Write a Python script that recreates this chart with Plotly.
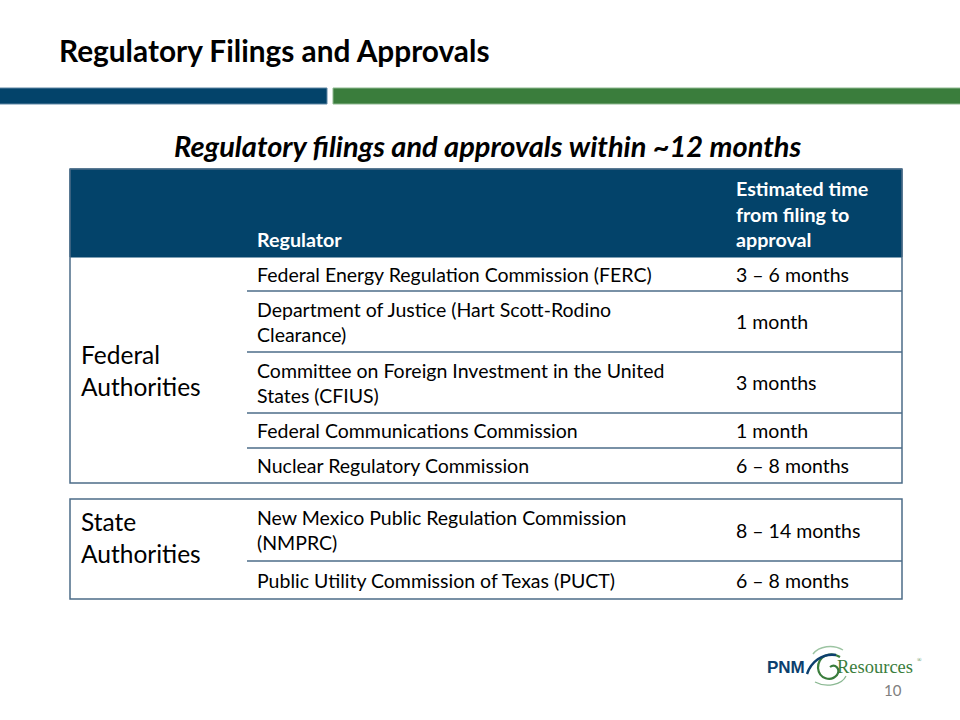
import plotly.graph_objects as go

# ---------------- data ----------------
title = "Regulatory Filings and Approvals"
subtitle = "Regulatory filings and approvals within ~12 months"
header_regulator = "Regulator"
header_time = "Estimated time<br>from filing to<br>approval"
groups = ["Federal<br>Authorities", "State<br>Authorities"]
regulators = [
    "Federal Energy Regulation Commission (FERC)",
    "Department of Justice (Hart Scott-Rodino<br>Clearance)",
    "Committee on Foreign Investment in the United<br>States (CFIUS)",
    "Federal Communications Commission",
    "Nuclear Regulatory Commission",
    "New Mexico Public Regulation Commission<br>(NMPRC)",
    "Public Utility Commission of Texas (PUCT)",
]
times = ["3 – 6 months", "1 month", "3 months", "1 month", "6 – 8 months",
         "8 – 14 months", "6 – 8 months"]
row_group = [0, 0, 0, 0, 0, 1, 1]
page_number = "10"

# ---------------- layout constants (pixels) ----------------
W, H = 960, 720
FONT = "Lato"
NAVY = "#03436A"
GREEN = "#3A7D3C"
LINE = "#4C6C88"
X0, X1, X2, X3 = 70, 247, 727, 902
HEAD_TOP, HEAD_BOT = 169, 257
row_heights = [34, 61, 61, 35, 35, 62, 38]
group_tops = [257, 499]
group_label_offset = [None, 38]  # None -> vertically centred in block
BODY = 19.5

fig = go.Figure()
shapes = []
ann = []

# title & bars
ann.append(dict(x=57, y=50, text=f"<b>{title}</b>", xanchor="left", yanchor="middle",
                font=dict(family=FONT, size=29.8, color="#000000")))
shapes.append(dict(type="rect", x0=-1, x1=327, y0=88, y1=104, fillcolor=NAVY,
                   line=dict(width=1, color="#5F86A3")))
shapes.append(dict(type="rect", x0=333, x1=961, y0=88, y1=104, fillcolor=GREEN,
                   line=dict(width=1, color="#8DB88F")))
ann.append(dict(x=487, y=145, text=f"<b><i>{subtitle}</i></b>", xanchor="center",
                yanchor="middle", font=dict(family=FONT, size=29, color="#000000")))

# header
shapes.append(dict(type="rect", x0=X0, x1=X3, y0=HEAD_TOP, y1=HEAD_BOT,
                   fillcolor=NAVY, line=dict(width=1, color=NAVY)))
ann.append(dict(x=X1 + 8, y=HEAD_BOT - 4, text=f"<b>{header_regulator}</b>",
                xanchor="left", yanchor="bottom",
                font=dict(family=FONT, size=19.7, color="white")))
ann.append(dict(x=X2 + 7, y=HEAD_BOT - 4, text=f"<b>{header_time}</b>",
                xanchor="left", yanchor="bottom", align="left",
                font=dict(family=FONT, size=19.7, color="white")))

# body rows
y = None
prev_g = None
group_bounds = {}
for i, (reg, t, g) in enumerate(zip(regulators, times, row_group)):
    if g != prev_g:
        y = group_tops[g]
        group_bounds[g] = [y, y]
        prev_g = g
    top, bot = y, y + row_heights[i]
    mid = (top + bot) / 2
    ann.append(dict(x=X1 + 8, y=mid, text=reg, xanchor="left", yanchor="middle",
                    align="left", font=dict(family=FONT, size=BODY, color="#000000")))
    ann.append(dict(x=X2 + 7, y=mid, text=t, xanchor="left", yanchor="middle",
                    font=dict(family=FONT, size=BODY, color="#000000")))
    is_last = (i + 1 == len(row_group)) or (row_group[i + 1] != g)
    if not is_last:
        shapes.append(dict(type="line", x0=X1, x1=X3, y0=bot, y1=bot,
                           line=dict(width=1.3, color=LINE)))
    group_bounds[g][1] = bot
    y = bot

for g, (top, bot) in group_bounds.items():
    y0 = HEAD_TOP if g == 0 else top
    shapes.append(dict(type="rect", x0=X0, x1=X3, y0=y0, y1=bot,
                       fillcolor="rgba(0,0,0,0)", line=dict(width=1.5, color=LINE)))
    off = group_label_offset[g]
    ly = (top + bot) / 2 if off is None else top + off
    ann.append(dict(x=X0 + 9, y=ly, text=groups[g], xanchor="left", yanchor="middle",
                    align="left", font=dict(family=FONT, size=24.5, color="#000000")))

# logo
ann.append(dict(x=765, y=667, text="<b>PNM</b>", xanchor="left", yanchor="middle",
                font=dict(family="Liberation Sans", size=17, color="#0C3F6E")))
shapes.append(dict(type="path",
                   path="M 843 650 C 833 644, 819 646, 813 654",
                   line=dict(color="#9CC4A2", width=1.4)))
shapes.append(dict(type="path",
                   path="M 840 657 C 830 651, 818 656, 818 668 C 819 679, 831 682, 837 675 "
                        "C 841 669, 835 663, 830 667",
                   line=dict(color="#3A7D3C", width=2.2)))
shapes.append(dict(type="path",
                   path="M 807 674 C 811 662, 822 653, 836 655",
                   line=dict(color="#0C3F6E", width=2.4)))
shapes.append(dict(type="path",
                   path="M 815 682 C 826 688, 842 685, 846 676",
                   line=dict(color="#8AB892", width=1.3)))
ann.append(dict(x=836, y=667, text="Resources", xanchor="left", yanchor="middle",
                borderpad=0, font=dict(family="Liberation Serif", size=18.5, color="#3A7D3C")))
ann.append(dict(x=916, y=660, text="®", xanchor="left", yanchor="middle", borderpad=0,
                font=dict(family="Liberation Serif", size=6, color="#3A7D3C")))
ann.append(dict(x=904, y=690, text=page_number, xanchor="right", yanchor="middle",
                font=dict(family=FONT, size=15, color="#808080")))

for a in ann:
    a.update(xref="x", yref="y", showarrow=False)
for s in shapes:
    s.update(xref="x", yref="y", layer="above")

fig.update_layout(
    width=W, height=H, margin=dict(l=0, r=0, t=0, b=0),
    paper_bgcolor="white", plot_bgcolor="white",
    xaxis=dict(range=[0, W], visible=False, fixedrange=True),
    yaxis=dict(range=[H, 0], visible=False, fixedrange=True),
    shapes=shapes, annotations=ann, showlegend=False,
)
fig.write_html("out.html", config={"displayModeBar": False},
               post_script="document.body.style.margin='0';")
